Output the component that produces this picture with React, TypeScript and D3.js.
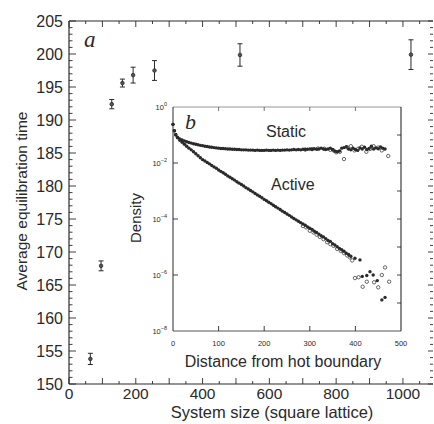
import React from "react";
import * as d3 from "d3";

// Main panel (a)
const sizes = [64, 96, 128, 160, 192, 256, 512, 1024];
const times = [153.8, 167.9, 192.4, 195.6, 196.8, 197.5, 199.85, 199.9];
const errs = [0.85, 0.75, 0.7, 0.6, 1.2, 1.5, 1.7, 2.25];
const xTickLabels = [0, 200, 400, 600, 800, 1000];
const yTickLabels = [150, 155, 160, 165, 170, 175, 180, 185, 190, 195, 200, 205];

// Inset (b): [distance, log10 density]
const staticFilled: [number, number][] = [
  [0, -0.62], [3, -0.85], [6, -0.98], [10, -1.08], [15, -1.14], [20, -1.18], [25, -1.21], [30, -1.24],
  [35, -1.27], [40, -1.29], [45, -1.31], [50, -1.33], [55, -1.35], [60, -1.37], [65, -1.38], [70, -1.4],
  [75, -1.41], [80, -1.43], [85, -1.44], [90, -1.45], [95, -1.46], [100, -1.47], [105, -1.48], [110, -1.48],
  [115, -1.49], [120, -1.5], [125, -1.5], [130, -1.51], [135, -1.51], [140, -1.52], [145, -1.52], [150, -1.53],
  [155, -1.53], [160, -1.53], [165, -1.54], [170, -1.54], [175, -1.54], [180, -1.55], [185, -1.54], [190, -1.55],
  [195, -1.55], [200, -1.55], [205, -1.54], [210, -1.55], [215, -1.55], [220, -1.54], [225, -1.55], [230, -1.54],
  [235, -1.55], [240, -1.54], [245, -1.54], [250, -1.53], [255, -1.54], [260, -1.53], [265, -1.52], [270, -1.53],
  [275, -1.52], [280, -1.53], [285, -1.51], [290, -1.52], [295, -1.51], [300, -1.5], [305, -1.52], [310, -1.49],
  [315, -1.51], [320, -1.5], [325, -1.47], [330, -1.5], [335, -1.52], [340, -1.5], [345, -1.47], [350, -1.52],
  [355, -1.58], [360, -1.6], [365, -1.57], [370, -1.47], [375, -1.45], [380, -1.42], [385, -1.5], [390, -1.53],
  [395, -1.47], [400, -1.52], [405, -1.55], [410, -1.46], [415, -1.5], [420, -1.44], [425, -1.52], [430, -1.48],
  [435, -1.4], [440, -1.5], [445, -1.46], [450, -1.49], [455, -1.43], [460, -1.47], [465, -1.5],
];
const staticOpen: [number, number][] = [
  [290, -1.52], [305, -1.5], [318, -1.48], [332, -1.49], [345, -1.53], [352, -1.55], [358, -1.62], [366, -1.6],
  [375, -1.86], [382, -1.44], [390, -1.4], [398, -1.55], [406, -1.49], [414, -1.42], [424, -1.6], [432, -1.5],
  [440, -1.4], [450, -1.45], [458, -1.55], [472, -1.75],
];
const activeFilled: [number, number][] = [
  [0, -0.62], [3, -0.85], [6, -1.0], [10, -1.1], [15, -1.19], [20, -1.26], [25, -1.33], [30, -1.4],
  [35, -1.47], [40, -1.53], [45, -1.6], [50, -1.67], [55, -1.74], [60, -1.81], [65, -1.88], [70, -1.93],
  [75, -1.98], [80, -2.03], [85, -2.09], [90, -2.14], [95, -2.19], [100, -2.25], [105, -2.3], [110, -2.35],
  [115, -2.4], [120, -2.46], [125, -2.51], [130, -2.56], [135, -2.61], [140, -2.67], [145, -2.72], [150, -2.77],
  [155, -2.82], [160, -2.88], [165, -2.93], [170, -2.98], [175, -3.03], [180, -3.09], [185, -3.14], [190, -3.19],
  [195, -3.24], [200, -3.3], [205, -3.35], [210, -3.4], [215, -3.45], [220, -3.51], [225, -3.56], [230, -3.61],
  [235, -3.66], [240, -3.72], [245, -3.77], [250, -3.82], [255, -3.87], [260, -3.93], [265, -3.98], [270, -4.03],
  [275, -4.08], [280, -4.13], [285, -4.18], [290, -4.22], [295, -4.28], [300, -4.33], [305, -4.37], [310, -4.44],
  [315, -4.48], [320, -4.54], [325, -4.6], [330, -4.64], [335, -4.7], [340, -4.77], [345, -4.8], [350, -4.88],
  [355, -4.93], [360, -4.99], [365, -5.05], [370, -5.1], [375, -5.15], [380, -5.22], [385, -5.27], [390, -5.33],
  [399, -5.4], [410, -5.46],
  [415, -6.05], [425, -6.02], [432, -5.88], [439, -6.0], [448, -6.2], [458, -6.89], [465, -6.8],
];
const activeOpen: [number, number][] = [
  [285, -4.25], [292, -4.3], [300, -4.42], [308, -4.48], [315, -4.56], [322, -4.64], [330, -4.72], [338, -4.83],
  [345, -4.9], [352, -4.96], [360, -5.07], [368, -5.14], [375, -5.22], [382, -5.3], [388, -5.37], [393, -5.48],
  [399, -6.11], [407, -6.08], [416, -6.42], [425, -6.24], [441, -6.26], [450, -6.44], [458, -6.0], [465, -5.73],
  [474, -6.24],
];
const insetXTicks = [0, 100, 200, 300, 400, 500];
const insetYLabelExps = [0, -2, -4, -6, -8];

const FONT = "'Liberation Sans', Arial, Helvetica, sans-serif";
const INK = "#2a2a2a";

export default function App() {
  const x = d3.scaleLinear().domain([0, 1090]).range([69, 433]);
  const y = d3.scaleLinear().domain([150, 205]).range([384, 21]);
  const ix = d3.scaleLinear().domain([0, 500]).range([173, 401]);
  const iy = d3.scaleLog().domain([1e-8, 1]).range([331, 107]);

  const yMinor = d3.range(150, 206, 1);
  const xMinor = d3.range(0, 1090, 50);

  return (
    <svg width={434} height={424} style={{ position: "absolute", left: 0, top: 0, background: "#fff" }} fontFamily={FONT}>
      <rect x={0} y={0} width={434} height={424} fill="#fff" />
      {/* main frame */}
      <line x1={x(0)} x2={x(0)} y1={y(150)} y2={y(205)} stroke={INK} strokeWidth={1.2} />
      <line x1={x(0)} x2={433} y1={y(150)} y2={y(150)} stroke={INK} strokeWidth={1.2} />
      <line x1={x(0)} x2={433} y1={y(205)} y2={y(205)} stroke={INK} strokeWidth={1.1} />
      {yMinor.map((v) => {
        const len = v % 5 === 0 ? 7 : 3.5;
        return (
          <g key={"ly" + v}>
            <line x1={x(0)} x2={x(0) + len} y1={y(v)} y2={y(v)} stroke={INK} strokeWidth={0.9} />
            <line x1={433} x2={433 - (v % 5 === 0 ? 5 : 3)} y1={y(v)} y2={y(v)} stroke={INK} strokeWidth={0.9} />
          </g>
        );
      })}
      {xMinor.map((v) => {
        const len = v % 100 === 0 ? 6 : 3;
        return (
          <g key={"lx" + v}>
            <line x1={x(v)} x2={x(v)} y1={y(150)} y2={y(150) - len} stroke={INK} strokeWidth={0.9} />
            <line x1={x(v)} x2={x(v)} y1={y(205)} y2={y(205) + len} stroke={INK} strokeWidth={0.9} />
          </g>
        );
      })}
      {yTickLabels.map((v) => (
        <text key={"yt" + v} x={63} y={y(v)} dy="0.36em" textAnchor="end" fontSize={16} fill={INK}>
          {v}
        </text>
      ))}
      {xTickLabels.map((v) => (
        <text key={"xt" + v} x={x(v)} y={398.5} textAnchor="middle" fontSize={15.5} fill={INK}>
          {v}
        </text>
      ))}
      <text x={272} y={418} textAnchor="middle" fontSize={16.5} fill={INK}>
        System size (square lattice)
      </text>
      <text transform={`translate(27,201) rotate(-90)`} textAnchor="middle" fontSize={15.5} fill={INK}>
        Average equilibration time
      </text>
      <text x={84} y={46.5} fontFamily="'Liberation Serif', 'DejaVu Serif', serif" fontStyle="italic" fontSize={23} fill={INK}>
        a
      </text>
      {/* main data */}
      {sizes.map((s, i) => {
        const cx = x(s);
        const y0 = y(times[i] - errs[i]);
        const y1 = y(times[i] + errs[i]);
        return (
          <g key={"pt" + i}>
            <line x1={cx} x2={cx} y1={y0} y2={y1} stroke={INK} strokeWidth={1} />
            <line x1={cx - 2.5} x2={cx + 2.5} y1={y0} y2={y0} stroke={INK} strokeWidth={1} />
            <line x1={cx - 2.5} x2={cx + 2.5} y1={y1} y2={y1} stroke={INK} strokeWidth={1} />
            <circle cx={cx} cy={y(times[i])} r={1.8} fill="#555" stroke={INK} strokeWidth={0.8} />
          </g>
        );
      })}

      {/* inset */}
      <rect x={ix(0)} y={iy(1)} width={ix(500) - ix(0)} height={iy(1e-8) - iy(1)} fill="#fff" />
      <line x1={ix(0)} x2={ix(500)} y1={iy(1)} y2={iy(1)} stroke="#888" strokeWidth={0.9} />
      <line x1={ix(0)} x2={ix(0)} y1={iy(1)} y2={iy(1e-8)} stroke={INK} strokeWidth={1} />
      <line x1={ix(0)} x2={ix(500)} y1={iy(1e-8)} y2={iy(1e-8)} stroke="#555" strokeWidth={1} />
      <line x1={ix(500)} x2={ix(500)} y1={iy(1)} y2={iy(1e-8)} stroke={INK} strokeWidth={1.1} />
      {[100, 200, 300, 400].map((v) => (
        <g key={"ixt" + v}>
          <line x1={ix(v)} x2={ix(v)} y1={iy(1e-8)} y2={iy(1e-8) - 5} stroke={INK} strokeWidth={0.9} />
          <line x1={ix(v)} x2={ix(v)} y1={iy(1)} y2={iy(1) + 4} stroke="#666" strokeWidth={0.9} />
        </g>
      ))}
      {[-2, -4, -6].map((e) => (
        <line key={"iyl" + e} x1={ix(0)} x2={ix(0) + 5} y1={iy(10 ** e)} y2={iy(10 ** e)} stroke={INK} strokeWidth={0.9} />
      ))}
      {[-1, -2, -3, -4, -5, -6, -7].map((e) => (
        <line key={"iyr" + e} x1={ix(500)} x2={ix(500) - 4} y1={iy(10 ** e)} y2={iy(10 ** e)} stroke={INK} strokeWidth={0.9} />
      ))}
      {insetXTicks.map((v) => (
        <text key={"ixl" + v} x={ix(v)} y={345.5} textAnchor="middle" fontSize={7.5} fill={INK}>
          {v}
        </text>
      ))}
      {insetYLabelExps.map((e) => (
        <text key={"iyt" + e} x={167} y={iy(10 ** e) + 2.5} textAnchor="end" fontSize={7.5} fill={INK}>
          <tspan>10</tspan>
          <tspan dy={-3.5} fontSize={5.5}>
            {e === 0 ? "0" : "\u2212" + Math.abs(e)}
          </tspan>
        </text>
      ))}
      <text x={283} y={367} textAnchor="middle" fontSize={16} fill={INK}>
        Distance from hot boundary
      </text>
      <text transform={`translate(141,218) rotate(-90)`} textAnchor="middle" fontSize={15} fill={INK}>
        Density
      </text>
      <text x={185} y={129} fontFamily="'Liberation Serif', 'DejaVu Serif', serif" fontStyle="italic" fontSize={22} fill={INK}>
        b
      </text>
      <text x={266} y={137} fontSize={16} fill={INK}>
        Static
      </text>
      <text x={271} y={190} fontSize={16} fill={INK}>
        Active
      </text>
      {staticOpen.map(([d, v], i) => (
        <circle key={"so" + i} cx={ix(d)} cy={iy(10 ** v)} r={1.7} fill="#fff" stroke={INK} strokeWidth={0.7} />
      ))}
      {activeOpen.map(([d, v], i) => (
        <circle key={"ao" + i} cx={ix(d)} cy={iy(10 ** v)} r={1.7} fill="#fff" stroke={INK} strokeWidth={0.7} />
      ))}
      {staticFilled.map(([d, v], i) => (
        <circle key={"sf" + i} cx={ix(d)} cy={iy(10 ** v)} r={1.7} fill={INK} />
      ))}
      {activeFilled.map(([d, v], i) => (
        <circle key={"af" + i} cx={ix(d)} cy={iy(10 ** v)} r={1.7} fill={INK} />
      ))}
    </svg>
  );
}
